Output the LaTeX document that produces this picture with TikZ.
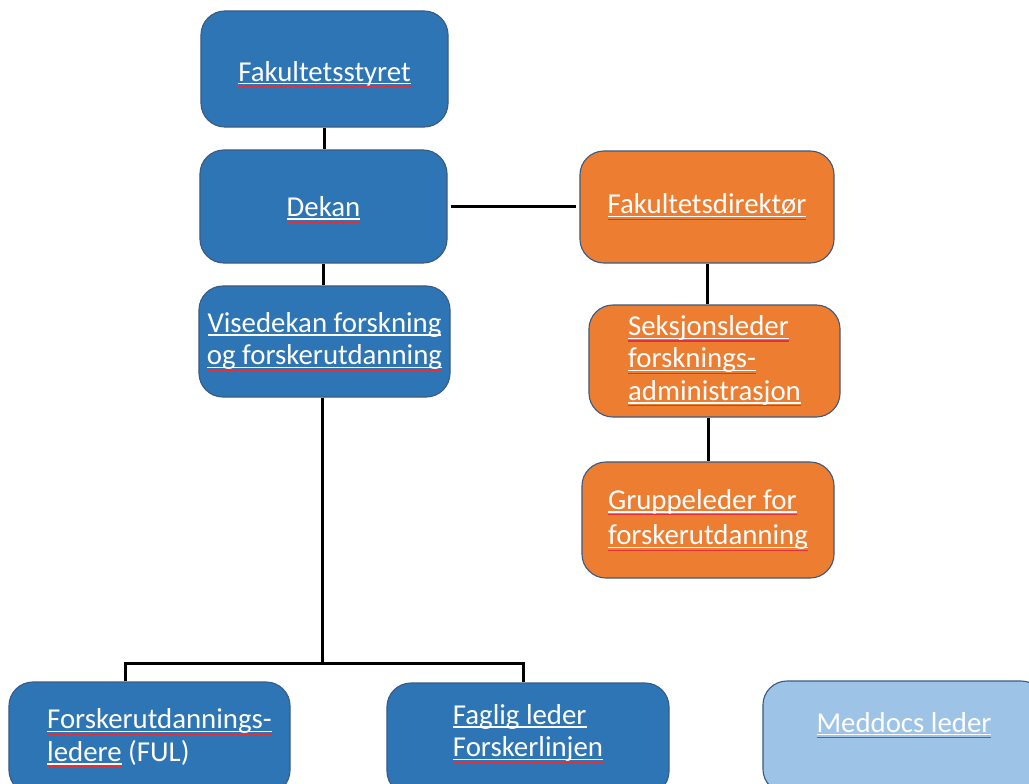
\documentclass[tikz,border=0pt]{standalone}
\usepackage{fontspec}
\setmainfont{Carlito}
\usetikzlibrary{positioning}

\definecolor{boxblue}{HTML}{2E75B6}
\definecolor{boxorange}{HTML}{ED7D31}
\definecolor{boxlight}{HTML}{9DC3E6}
\definecolor{boxedge}{HTML}{3B5B82}
\definecolor{spellred}{HTML}{E0303A}

% understreking av ord (hvit linje + rød stavekontroll)
\newcommand{\wordline}[1]{\leavevmode\setbox0=\hbox{#1}%
  \rlap{\vrule width\wd0 height -1.4pt depth 2.4pt}%
  \rlap{\color{spellred}\vrule width\wd0 height -3.4pt depth 4.3pt}\box0\relax}

\tikzset{
  orgbox/.style={draw=boxedge, line width=0.8pt, rounded corners=0.6cm,
    text=white, font=\fontsize{20.5}{23}\selectfont, minimum height=2.8cm},
  bluebox/.style={orgbox, fill=boxblue},
  orangebox/.style={orgbox, fill=boxorange},
  lightbox/.style={orgbox, fill=boxlight},
  link/.style={line width=0.075cm, black}
}

\begin{document}
\begin{tikzpicture}[x=0.025cm, y=-0.025cm]
  \useasboundingbox (0,0) rectangle (1029,783);
  \clip (0,0) rectangle (1029,783);

  % Linje for fakultetet
  \node[bluebox, minimum width=6.175cm, minimum height=2.9cm] (styret) at (324.5,69)
    {\raisebox{-0.3cm}[0pt][0pt]{\wordline{Fakultetsstyret}}};
  \node[bluebox, minimum width=6.175cm, minimum height=2.825cm] (dekan) at (323.5,206.5)
    {\raisebox{-0.25cm}[0pt][0pt]{\wordline{Dekan}}};
  \node[bluebox, minimum width=6.275cm, minimum height=2.775cm, align=center] (visedekan) at (324.5,341.5)
    {\wordline{Visedekan forskning}\\\wordline{og forskerutdanning}};

  % Administrasjonen
  \node[orangebox, minimum width=6.35cm] (direktor) at (707,207) {\wordline{Fakultetsdirektør}};
  \node[orangebox, minimum width=6.275cm, align=left] (seksjon) at (714.5,361)
    {\wordline{Seksjonsleder}\\\wordline{forsknings-}\\\wordline{administrasjon}};
  \node[orangebox, minimum width=6.3cm, minimum height=2.9cm, align=left] (gruppe) at (708,520)
    {\wordline{Gruppeleder for}\\[0.08cm]\wordline{forskerutdanning}};

  % Nederste rad
  \node[bluebox, minimum width=7.025cm, align=left] (ful) at (149.5,738)
    {\hspace*{0.5cm}\wordline{Forskerutdannings-}\\\hspace*{0.5cm}\wordline{ledere} (FUL)};
  \node[bluebox, minimum width=7.05cm, align=left] (faglig) at (528,739)
    {\wordline{Faglig leder}\\\wordline{Forskerlinjen}\\[-0.63cm]\strut};
  \node[lightbox, minimum width=7.05cm, align=center] (meddocs) at (904,737)
    {\wordline{Meddocs leder}\\[-0.3cm]\strut};

  % Forbindelser
  \draw[link] (styret.south) -- (styret.south |- dekan.north);
  \draw[link] (dekan.south) -- (dekan.south |- visedekan.north);
  \draw[link] ([xshift=0.075cm]dekan.east) -- ([xshift=-0.075cm]dekan.east -| direktor.west);
  \draw[link] (direktor.south) -- (direktor.south |- seksjon.north);
  \draw[link] (gruppe.north |- seksjon.south) -- (gruppe.north);

  \coordinate (split) at (322,663);
  \coordinate (fuldrop) at ([xshift=-0.6cm]ful.north);
  \coordinate (fagdrop) at ([xshift=-0.125cm]faglig.north);
  \draw[link] (visedekan.south -| split) -- (split);
  \draw[link] (fuldrop) |- (split) -| (fagdrop);
\end{tikzpicture}
\end{document}
